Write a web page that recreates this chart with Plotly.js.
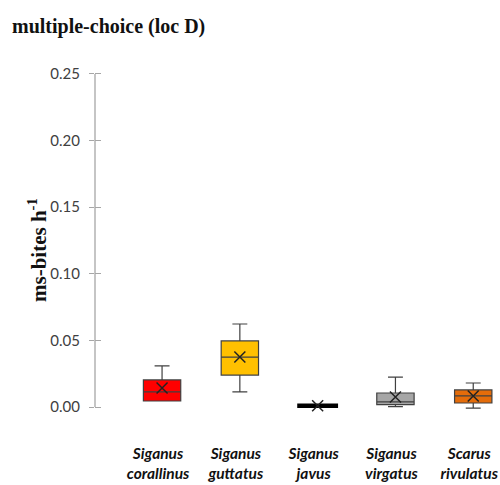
<!DOCTYPE html>
<html>
<head>
<meta charset="utf-8">
<script src="https://cdn.plot.ly/plotly-3.0.1.min.js"></script>
<style>html,body{margin:0;padding:0;background:#fff;}#chart{width:500px;height:485px;}</style>
</head>
<body>
<div id="chart"></div>
<script>
var genus = ["Siganus", "Siganus", "Siganus", "Siganus", "Scarus"];
var species = ["corallinus", "guttatus", "javus", "virgatus", "rivulatus"];
var lowerWhisker = [0.0045, 0.0113, 0.0006, 0.0003, -0.0008];
var q1Values = [0.0045, 0.0240, 0.0006, 0.0018, 0.0030];
var medianValues = [0.0113, 0.0375, 0.0010, 0.0038, 0.0083];
var q3Values = [0.0203, 0.0496, 0.0014, 0.0105, 0.0128];
var upperWhisker = [0.0308, 0.0623, 0.0014, 0.0225, 0.0180];
var meanValues = [0.0143, 0.0375, 0.0010, 0.0075, 0.0083];
var fillColors = ["#FF0000", "#FFC000", "#000000", "#A6A6A6", "#E46C0A"];
var lineColors = ["#404040", "#404040", "#000000", "#404040", "#404040"];
var yTicks = [0, 0.05, 0.10, 0.15, 0.20, 0.25];

var positions = species.map(function(_, i){ return i; });
var tickText = species.map(function(s, i){ return "<b><i>" + genus[i] + "</i></b><br><b><i>" + s + "</i></b>"; });

var traces = [];
positions.forEach(function(p, i){
  traces.push({
    type: "box",
    x: [p],
    q1: [q1Values[i]],
    median: [medianValues[i]],
    q3: [q3Values[i]],
    lowerfence: [lowerWhisker[i]],
    upperfence: [upperWhisker[i]],
    width: 0.48,
    whiskerwidth: 0.4,
    fillcolor: fillColors[i],
    line: {color: lineColors[i], width: i === 2 ? 3.5 : 1.2},
    boxpoints: false,
    hoverinfo: "skip",
    showlegend: false
  });
});
traces.push({
  type: "scatter",
  mode: "markers",
  x: positions,
  y: meanValues,
  marker: {symbol: "x-thin", size: 11, color: "#000", line: {color: "#222", width: 1.5}},
  showlegend: false,
  hoverinfo: "skip",
  cliponaxis: false
});
traces.push({type: "scatter", x: [null], y: [null], yaxis: "y2", showlegend: false, hoverinfo: "skip"});

var yRange = [-0.00976, 0.2605];
var layout = {
  width: 500, height: 485,
  margin: {l: 95, r: 0, t: 60, b: 65},
  paper_bgcolor: "#fff", plot_bgcolor: "rgba(0,0,0,0)",
  title: {
    text: "<b>multiple-choice (loc D)</b>",
    font: {family: "Liberation Serif, serif", size: 20, color: "#111"},
    x: 12/500, xanchor: "left", xref: "container",
    y: 1 - 26/485, yanchor: "middle", yref: "container"
  },
  xaxis: {
    range: [-0.862, 4.344],
    tickvals: positions,
    ticktext: tickText,
    showline: false, showgrid: false, zeroline: false, ticks: "",
    tickfont: {family: "Lato, sans-serif", size: 15.5, color: "#111"},
    ticklabelstandoff: 22,
    ticklabelshift: -4,
    ticklabeloverflow: "allow"
  },
  yaxis: {
    range: yRange,
    tickvals: yTicks,
    ticktext: yTicks.map(function(v){ return v.toFixed(2); }),
    showline: false, showgrid: false, zeroline: false,
    ticks: "outside", ticklen: 5, tickcolor: "#A6A6A6", tickwidth: 1,
    tickfont: {family: "Lato, sans-serif", size: 15, color: "#404040"},
    ticklabelstandoff: 6
  },
  yaxis2: {
    range: yRange, overlaying: "y", side: "left",
    tickvals: yTicks, showticklabels: false,
    showline: false, showgrid: false, zeroline: false,
    ticks: "inside", ticklen: 6, tickcolor: "#A6A6A6", tickwidth: 1
  },
  annotations: [{
    text: "<b>ms-bites h<sup>-1</sup></b>",
    xref: "paper", yref: "paper",
    x: (37 - 95) / 405, y: (420 - 250) / 360,
    xanchor: "center", yanchor: "middle",
    textangle: -90, showarrow: false,
    font: {family: "Liberation Serif, serif", size: 21, color: "#111"}
  }],
  shapes: [{
    type: "line", xref: "paper", yref: "y",
    x0: 0, x1: 0, y0: 0, y1: 0.25,
    line: {color: "#A6A6A6", width: 1.3}
  }]
};
Plotly.newPlot("chart", traces, layout, {displayModeBar: false, staticPlot: true});
</script>
</body>
</html>
